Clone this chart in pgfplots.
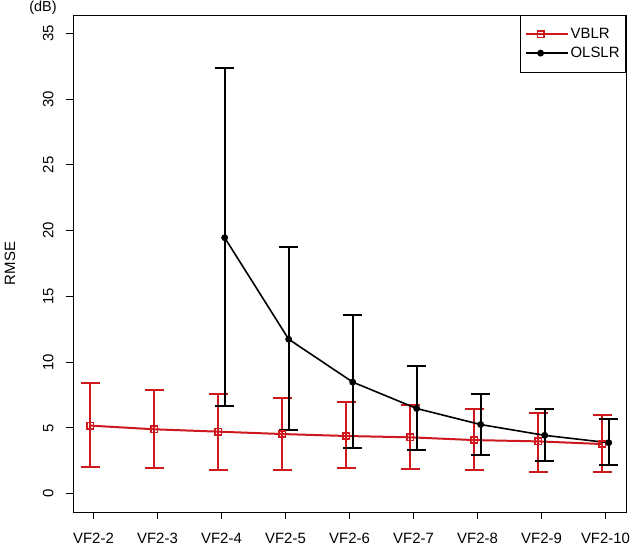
\documentclass[border=0pt]{standalone}
\usepackage{pgfplots}
\pgfplotsset{compat=1.18}
\usepackage{pgfplotstable}
\usepackage{fontspec}
\setmainfont{Liberation Sans}
\usetikzlibrary{calc}
\definecolor{rred}{RGB}{205,25,30}

\pgfplotstableread{
x y ep em
0.95 5.17 3.23 3.18
1.95 4.89 2.98 2.98
2.95 4.71 2.85 2.88
3.95 4.53 2.73 2.70
4.95 4.38 2.60 2.45
5.95 4.28 2.47 2.42
6.95 4.07 2.37 2.31
7.95 3.97 2.14 2.29
8.95 3.77 2.19 2.09
}\vblr

\pgfplotstableread{
x y ep em
3.05 19.46 12.93 12.79
4.05 11.74 7.05 6.90
5.05 8.48 5.12 5.02
6.05 6.47 3.23 3.16
7.05 5.25 2.31 2.35
8.05 4.43 1.99 1.96
9.05 3.87 1.78 1.71
}\olslr

\begin{document}
\begin{tikzpicture}
\begin{axis}[
  scale only axis,
  width=553bp, height=497bp,
  xmin=0.68, xmax=9.32,
  ymin=-1.4, ymax=36.4,
  xtick={1,...,9},
  xticklabels={VF2-2,VF2-3,VF2-4,VF2-5,VF2-6,VF2-7,VF2-8,VF2-9,VF2-10},
  ytick={0,5,...,35},
  /pgf/number format/assume math mode=true,
  tick align=outside,
  xtick pos=bottom, ytick pos=left,
  major tick length=7bp,
  tick style={black, line width=0.8bp},
  axis line style={line width=0.8bp},
  ticklabel style={font=\fontsize{15}{17}\selectfont},
  yticklabel style={rotate=90, anchor=south, yshift=9bp},
  xticklabel style={yshift=-11bp},
  legend style={at={(1,1)}, anchor=north east, draw=black, line width=0.8bp,
    font=\fontsize{15}{17}\selectfont, row sep=3bp, inner xsep=4bp, inner ysep=11bp,
    nodes={inner sep=2bp}},
  legend cell align=left,
  legend image code/.code={\draw[mark repeat=2,mark phase=2] plot coordinates {(0bp,0bp) (15bp,0bp) (30bp,0bp)}; \path (0bp,0bp) -- (42bp,0bp);},
]
\coordinate (sw) at (rel axis cs:0,0);
\coordinate (ne) at (rel axis cs:1,1);
\addplot[rred, line width=2bp, mark=square, mark size=3.2bp, mark options={line width=1.6bp},
  error bars/.cd, y dir=both, y explicit,
  error bar style={line width=2bp, rred},
  error mark options={rotate=90, mark size=9.5bp, line width=2bp, rred}]
  table[x=x, y=y, y error plus=ep, y error minus=em] {\vblr};
\addlegendentry{VBLR}
\addplot[black, line width=1.6bp, mark=*, mark size=2.6bp,
  error bars/.cd, y dir=both, y explicit,
  error bar style={line width=2bp, black},
  error mark options={rotate=90, mark size=9.5bp, line width=2bp, black}]
  table[x=x, y=y, y error plus=ep, y error minus=em] {\olslr};
\addlegendentry{OLSLR}
\end{axis}
\node[font=\fontsize{14.5}{16}\selectfont, anchor=north, inner sep=0pt] at ($(sw|-ne)+(-30bp,14.5bp)$) {(dB)};
\node[font=\fontsize{15}{17}\selectfont, rotate=90] at ($(sw)!0.5!(sw|-ne)+(-63bp,0)$) {RMSE};
\pgfresetboundingbox
\path[use as bounding box] ($(sw)+(-73bp,-35bp)$) rectangle ($(ne)+(6bp,15bp)$);
\end{tikzpicture}
\end{document}
